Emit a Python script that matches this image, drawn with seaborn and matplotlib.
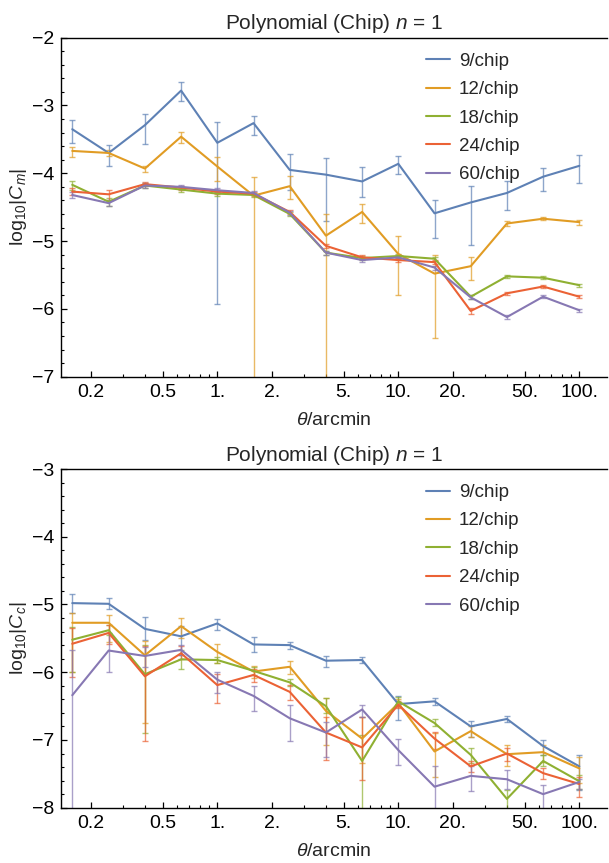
import numpy as np
import pandas as pd
import matplotlib
matplotlib.use("Agg")
import matplotlib.pyplot as plt
from matplotlib.ticker import FixedLocator, FixedFormatter
import seaborn as sns

# Angular bins (arcmin): 0.2-decade log spacing from 10^-0.8 to 10^2
theta = [0.158, 0.251, 0.398, 0.631, 1.0, 1.585, 2.512, 3.981, 6.310,
         10.0, 15.85, 25.12, 39.81, 63.10, 100.0]

series = ["9/chip", "12/chip", "18/chip", "24/chip", "60/chip"]
colors = ["#5E81B5", "#E19C24", "#8FB032", "#EB6235", "#8778B3"]

# ---- log10|C_m| : value, upper and lower end of error bar ----
cm_9 = [-3.35, -3.70, -3.29, -2.78, -3.55, -3.26, -3.95, -4.02, -4.12, -3.86, -4.59, -4.43, -4.29, -4.05, -3.89]
cm_9_hi = [-3.22, -3.58, -3.13, -2.66, -3.25, -3.15, -3.71, -3.78, -3.91, -3.74, -4.40, -4.19, -4.12, -3.92, -3.73]
cm_9_lo = [-3.55, -3.89, -3.57, -2.94, -5.93, -3.44, -4.25, -4.70, -4.35, -4.01, -4.96, -5.06, -4.54, -4.26, -4.14]

cm_12 = [-3.67, -3.70, -3.93, -3.46, -3.90, -4.33, -4.19, -4.92, -4.57, -5.19, -5.48, -5.37, -4.74, -4.67, -4.72]
cm_12_hi = [-3.61, -3.65, -3.89, -3.39, -3.76, -4.06, -4.04, -4.60, -4.45, -4.93, -5.21, -5.23, -4.71, -4.65, -4.69]
cm_12_lo = [-3.76, -3.75, -3.98, -3.56, -4.12, -9.00, -4.38, -9.00, -4.73, -5.80, -6.43, -5.58, -4.77, -4.69, -4.76]

cm_18 = [-4.17, -4.42, -4.18, -4.24, -4.30, -4.32, -4.60, -5.17, -5.25, -5.22, -5.26, -5.82, -5.52, -5.54, -5.65]
cm_18_hi = [-4.11, -4.37, -4.15, -4.21, -4.27, -4.29, -4.57, -5.14, -5.22, -5.19, -5.23, -5.79, -5.50, -5.52, -5.63]
cm_18_lo = [-4.24, -4.48, -4.21, -4.27, -4.33, -4.35, -4.63, -5.20, -5.28, -5.25, -5.29, -5.85, -5.54, -5.56, -5.67]

cm_24 = [-4.27, -4.31, -4.16, -4.21, -4.27, -4.30, -4.57, -5.07, -5.24, -5.28, -5.31, -6.03, -5.77, -5.67, -5.82]
cm_24_hi = [-4.22, -4.25, -4.13, -4.18, -4.24, -4.27, -4.54, -5.04, -5.21, -5.25, -5.28, -5.99, -5.75, -5.65, -5.80]
cm_24_lo = [-4.32, -4.39, -4.19, -4.24, -4.30, -4.33, -4.60, -5.10, -5.27, -5.31, -5.34, -6.07, -5.79, -5.69, -5.84]

cm_60 = [-4.32, -4.44, -4.18, -4.20, -4.25, -4.29, -4.58, -5.17, -5.28, -5.24, -5.39, -5.83, -6.12, -5.82, -6.02]
cm_60_hi = [-4.27, -4.40, -4.15, -4.17, -4.22, -4.26, -4.55, -5.14, -5.25, -5.21, -5.36, -5.80, -6.09, -5.80, -6.00]
cm_60_lo = [-4.37, -4.48, -4.21, -4.23, -4.28, -4.32, -4.61, -5.20, -5.31, -5.27, -5.42, -5.86, -6.15, -5.84, -6.04]

# ---- log10|C_c| ----
cc_9 = [-4.98, -4.99, -5.36, -5.47, -5.28, -5.59, -5.60, -5.83, -5.82, -6.47, -6.43, -6.80, -6.69, -7.09, -7.39]
cc_9_hi = [-4.85, -4.91, -5.19, -5.32, -5.22, -5.48, -5.55, -5.76, -5.78, -6.35, -6.38, -6.72, -6.64, -7.00, -7.22]
cc_9_lo = [-5.12, -5.07, -5.52, -5.75, -5.38, -5.70, -5.65, -5.92, -5.86, -6.70, -6.48, -6.96, -6.74, -7.22, -7.74]

cc_12 = [-5.27, -5.27, -5.75, -5.32, -5.70, -5.99, -5.92, -6.57, -6.98, -6.46, -7.17, -6.87, -7.21, -7.18, -7.42]
cc_12_hi = [-5.12, -5.15, -5.54, -5.20, -5.58, -5.91, -5.84, -6.38, -6.66, -6.40, -6.90, -6.80, -7.07, -7.08, -7.25]
cc_12_lo = [-6.00, -5.55, -6.75, -5.50, -5.86, -6.08, -6.02, -7.07, -7.34, -6.52, -7.54, -6.95, -7.39, -7.32, -7.64]

cc_18 = [-5.52, -5.38, -6.03, -5.81, -5.82, -5.98, -6.15, -6.50, -7.31, -6.43, -6.75, -7.22, -7.87, -7.31, -7.61]
cc_18_hi = [-5.33, -5.31, -5.60, -5.67, -5.77, -5.92, -6.10, -6.38, -6.93, -6.37, -6.69, -7.12, -7.74, -7.22, -7.52]
cc_18_lo = [-5.99, -5.45, -6.90, -5.95, -5.87, -6.04, -6.20, -6.60, -9.00, -6.49, -6.80, -7.34, -9.00, -7.39, -7.72]

cc_24 = [-5.58, -5.42, -6.06, -5.72, -6.19, -6.04, -6.29, -6.89, -7.11, -6.48, -6.98, -7.39, -7.20, -7.49, -7.65]
cc_24_hi = [-5.35, -5.31, -5.61, -5.61, -6.02, -5.95, -6.19, -6.66, -6.66, -6.43, -6.88, -7.31, -7.12, -7.42, -7.54]
cc_24_lo = [-6.07, -5.58, -7.01, -5.81, -6.46, -6.14, -6.41, -7.30, -7.59, -6.53, -7.13, -7.48, -7.31, -7.58, -7.84]

cc_60 = [-6.34, -5.68, -5.76, -5.67, -6.11, -6.35, -6.68, -6.89, -6.55, -7.15, -7.69, -7.53, -7.58, -7.80, -7.62]
cc_60_hi = [-5.67, -5.42, -5.63, -5.60, -5.99, -6.21, -6.48, -6.74, -6.48, -6.99, -7.39, -7.39, -7.44, -7.67, -7.57]
cc_60_lo = [-9.00, -6.00, -5.92, -5.75, -6.30, -6.57, -7.01, -7.25, -6.66, -7.37, -9.00, -7.76, -7.73, -9.00, -7.72]

xtick_vals = [0.2, 0.5, 1, 2, 5, 10, 20, 50, 100]
xtick_labels = ["0.2", "0.5", "1.", "2.", "5.", "10.", "20.", "50.", "100."]

sns.set_theme(style="white")
plt.rcParams["font.family"] = ["Liberation Sans", "DejaVu Sans"]
plt.rcParams["mathtext.fontset"] = "custom"
plt.rcParams["mathtext.rm"] = "Liberation Sans"
plt.rcParams["mathtext.it"] = "Liberation Sans:italic"
plt.rcParams["axes.unicode_minus"] = True

W, H = 609, 863
fig = plt.figure(figsize=(W / 100, H / 100), dpi=100)
ax_top = fig.add_axes([61 / W, 486.3 / H, 546 / W, 339.0 / H])
ax_bot = fig.add_axes([61 / W, 55.3 / H, 546 / W, 338.7 / H])


def build_frame(vals, his, los):
    rows = []
    for name, v, hi, lo in zip(series, vals, his, los):
        for t, a, b, c in zip(theta, v, hi, lo):
            rows.append({"theta": t, "value": a, "hi": b, "lo": c, "series": name})
    return pd.DataFrame(rows)


def draw_panel(ax, df, ylim, ylabel):
    for name, col in zip(series, colors):
        sub = df[df["series"] == name]
        ax.errorbar(sub["theta"], sub["value"],
                    yerr=[sub["value"] - sub["lo"], sub["hi"] - sub["value"]],
                    fmt="none", ecolor=col, alpha=0.7, elinewidth=1.0,
                    capsize=2.3, capthick=1.0, zorder=2)
    sns.lineplot(data=df, x="theta", y="value", hue="series", hue_order=series,
                 palette=colors, estimator=None, sort=False, linewidth=1.5,
                 ax=ax, legend=True, zorder=3)
    ax.set_xscale("log")
    ax.set_xlim(0.1369, 142.2)
    ax.set_ylim(*ylim)
    ax.xaxis.set_major_locator(FixedLocator(xtick_vals))
    ax.xaxis.set_major_formatter(FixedFormatter(xtick_labels))
    minors = [m * d for d in (0.1, 1, 10) for m in range(2, 10)]
    minors = [m for m in minors if m not in xtick_vals and 0.14 < m < 142]
    ax.xaxis.set_minor_locator(FixedLocator(minors))
    yt = np.arange(ylim[0], ylim[1] + 0.5, 1)
    ax.set_yticks(yt)
    ax.set_yticklabels(["\u2212%d" % abs(int(v)) for v in yt])
    ax.yaxis.set_minor_locator(FixedLocator(np.arange(ylim[0], ylim[1], 0.2)))
    ax.tick_params(axis="both", which="both", direction="in", colors="black",
                   labelsize=14, bottom=True, left=True, top=False, right=False)
    ax.tick_params(axis="both", which="major", length=4, width=0.9, pad=5)
    ax.tick_params(axis="both", which="minor", length=2.5, width=0.8)
    for side in ("left", "bottom", "top"):
        ax.spines[side].set_color("black")
        ax.spines[side].set_linewidth(1.0)
    ax.spines["right"].set_visible(False)
    ax.set_xlabel(r"$\theta$/arcmin", fontsize=14, labelpad=8)
    ax.set_ylabel(ylabel, fontsize=14, labelpad=2)
    ax.set_title(r"Polynomial (Chip) $n$ = 1", fontsize=15, pad=6)
    handles, labels = ax.get_legend_handles_labels()
    ax.legend(handles, labels, loc="upper left", bbox_to_anchor=(0.655, 0.978),
              frameon=False, fontsize=13.5, handlelength=1.25, handletextpad=0.5,
              labelspacing=0.6, borderaxespad=0)


df_m = build_frame([cm_9, cm_12, cm_18, cm_24, cm_60],
                   [cm_9_hi, cm_12_hi, cm_18_hi, cm_24_hi, cm_60_hi],
                   [cm_9_lo, cm_12_lo, cm_18_lo, cm_24_lo, cm_60_lo])
df_c = build_frame([cc_9, cc_12, cc_18, cc_24, cc_60],
                   [cc_9_hi, cc_12_hi, cc_18_hi, cc_24_hi, cc_60_hi],
                   [cc_9_lo, cc_12_lo, cc_18_lo, cc_24_lo, cc_60_lo])

draw_panel(ax_top, df_m, (-7, -2), r"$\mathrm{log}_{10}|C_m|$")
draw_panel(ax_bot, df_c, (-8, -3), r"$\mathrm{log}_{10}|C_c|$")

fig.savefig("out.png", dpi=100)
